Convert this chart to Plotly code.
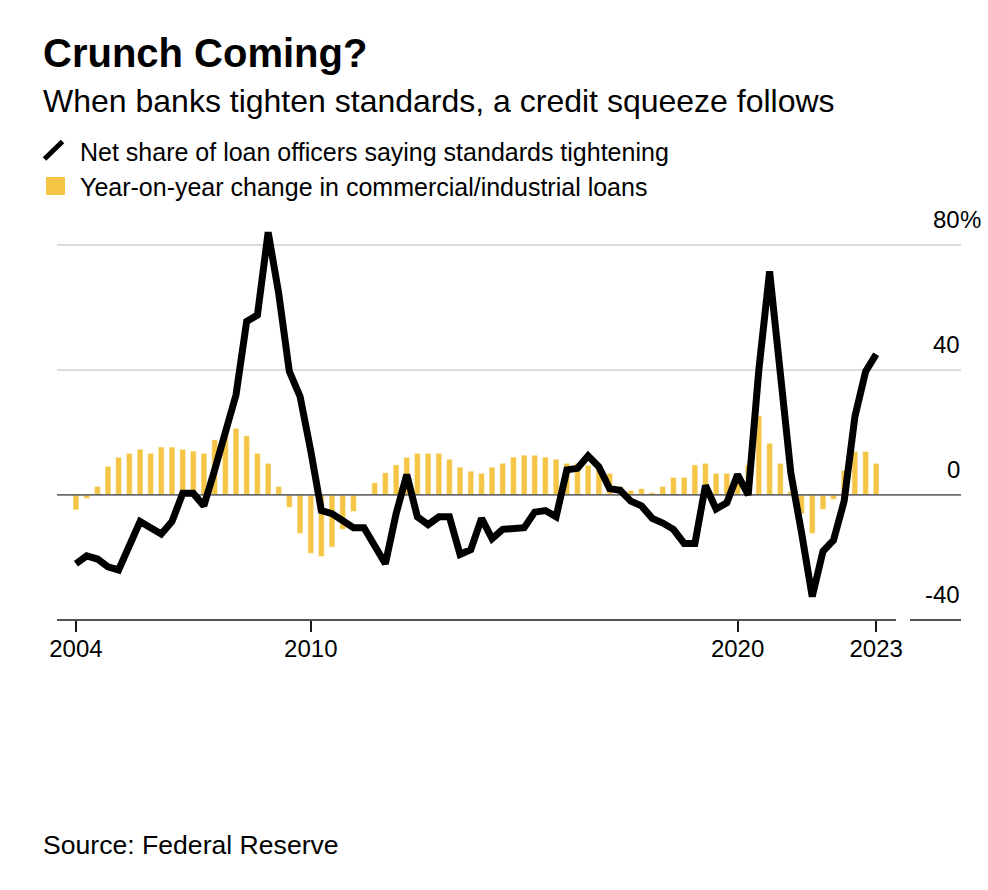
import plotly.graph_objects as go
import pandas as pd

# ---------------- data ----------------
quarters = pd.date_range("2004-07-01", "2023-04-01", freq="QS")

tightening = [
    -22, -19.5, -20.5, -23, -24, -16.5, -8.5, -10.5, -12.5, -8.5,
    0.5, 0.5, -3.5, 8, 19.5, 32, 55.5, 57.5, 84, 64.5,
    39.5, 31.5, 14, -5, -6, -8, -10.5, -10.5, -16, -22,
    -6, 6.5, -7, -9.5, -7, -7, -19, -17.5, -7.5, -14,
    -11, -10.5, -10.5, -5.5, -5, -7, 8, 8.5, 12.5, 9,
    2, 1.5, -2, -3.5, -7.5, -9, -11, -15.5, -15.5, 3,
    -4.5, -2.5, 6.5, 0, 40, 71.5, 38, 7, -12, -32.5,
    -18, -14.5, -2, 25, 39.5, 45,
]

loan_growth = [
    -4.8, -1.1, 2.7, 9.1, 12, 13.3, 14.6, 13.3, 15.3, 15.3,
    14.6, 14, 13.3, 17.6, 19.5, 21.3, 18.9, 13.3, 10.1, 2.7,
    -4, -12.3, -18.7, -19.7, -16.7, -11, -5.3, 0.3, 3.9, 7.1,
    9.6, 12, 13.3, 13.3, 13.3, 11.4, 8.9, 7.6, 6.9, 8.9,
    10.1, 12.1, 12.7, 12.7, 12.1, 11.4, 10.1, 10.1, 9.5, 8.5,
    6.9, 2.7, 1.4, 2.0, 0.7, 2.7, 5.6, 5.6, 9.6, 10.1,
    6.9, 6.9, 6, 9.6, 25.3, 16.5, 10.1, 1.1, -6, -12.3,
    -4.6, -1.4, 7.8, 13.9, 13.9, 10.1,
]

x_tick_vals = ["2004-07-01", "2010-01-01", "2020-01-01", "2023-04-01"]
x_tick_text = ["2004", "2010", "2020", "2023"]
y_label_vals = [80, 40, 0, -40]
x_range = ["2004-01-21", "2025-03-27"]
y_range = [-40, 86]

title = "Crunch Coming?"
subtitle = "When banks tighten standards, a credit squeeze follows"
legend_line = "Net share of loan officers saying standards tightening"
legend_bar = "Year-on-year change in commercial/industrial loans"
source = "Source: Federal Reserve"

# ---------------- styling ----------------
W, H = 988, 890
ML, MR, MT, MB = 57, 27, 226, 270
PW, PH = W - ML - MR, H - MT - MB
FONT = "Liberation Sans, Arial, Helvetica, sans-serif"
BAR_COLOR = "#F5C545"


def xp(px):
    return (px - ML) / PW


def yp(py):
    return (H - MB - py) / PH


fig = go.Figure()

fig.add_trace(go.Bar(
    x=quarters, y=loan_growth,
    marker=dict(color=BAR_COLOR, line=dict(color="rgba(255,255,255,0.55)", width=0.8)),
    hoverinfo="skip", showlegend=False,
))

# zero reference line above the bars, below the black line
fig.add_trace(go.Scatter(
    x=x_range, y=[0, 0], mode="lines",
    line=dict(color="#6b6b6b", width=1.6),
    hoverinfo="skip", showlegend=False,
))

fig.add_trace(go.Scatter(
    x=quarters, y=tightening, mode="lines",
    line=dict(color="#000000", width=7),
    hoverinfo="skip", showlegend=False,
))

fig.update_layout(
    width=W, height=H,
    margin=dict(l=ML, r=MR, t=MT, b=MB, pad=0),
    paper_bgcolor="white", plot_bgcolor="white",
    showlegend=False, bargap=0.45,
    font=dict(family=FONT, color="#000000"),
    xaxis=dict(
        type="date", range=x_range,
        tickvals=x_tick_vals, ticktext=x_tick_text,
        ticks="outside", ticklen=11, tickwidth=1.5, tickcolor="#1a1a1a",
        ticklabelstandoff=-4,
        tickfont=dict(size=24, family=FONT, color="#000000"),
        showgrid=False, showline=False, zeroline=False, fixedrange=True,
    ),
    yaxis=dict(
        range=y_range, tickvals=[40, 80], showticklabels=False,
        showgrid=True, gridcolor="#dcdcdc", gridwidth=2,
        zeroline=False, showline=False, ticks="", fixedrange=True,
    ),
)

# bottom axis line with a gap before the label column
fig.add_shape(type="line", xref="paper", yref="paper", x0=xp(57), x1=xp(896), y0=0, y1=0,
              line=dict(color="#1a1a1a", width=1.6))
fig.add_shape(type="line", xref="paper", yref="paper", x0=xp(910), x1=xp(961), y0=0, y1=0,
              line=dict(color="#1a1a1a", width=1.6))

# legend icons
fig.add_shape(type="line", xref="paper", yref="paper",
              x0=xp(44.5), y0=yp(159), x1=xp(62.5), y1=yp(141.5),
              line=dict(color="#000000", width=5))
fig.add_shape(type="rect", xref="paper", yref="paper",
              x0=xp(46), y0=yp(195), x1=xp(65), y1=yp(177),
              fillcolor=BAR_COLOR, line=dict(width=0))

# y tick labels (right side, above the gridlines)
for v in y_label_vals:
    fig.add_annotation(x=xp(962), xref="paper", y=v, yref="y", text=str(v),
                       xanchor="right", yanchor="top", yshift=41, showarrow=False,
                       font=dict(size=24, family=FONT, color="#000000"))
fig.add_annotation(x=xp(957.5), xref="paper", y=y_label_vals[0], yref="y", text="%",
                   xanchor="left", yanchor="top", yshift=41, showarrow=False,
                   font=dict(size=24, family=FONT, color="#000000"))

texts = [
    (f"<b>{title}</b>", 41, 29.4, 40),
    (subtitle, 41, 81.3, 32),
    (legend_line, 77.5, 136, 25),
    (legend_bar, 77.5, 171, 25),
    (source, 41, 828, 26.6),
]
for t, x, y, s in texts:
    fig.add_annotation(x=xp(x), y=yp(y), xref="paper", yref="paper", text=t,
                       xanchor="left", yanchor="top", showarrow=False,
                       font=dict(size=s, family=FONT, color="#000000"))

fig.write_html("out.html", config={"displayModeBar": False},
               post_script="document.body.style.margin='0px';")
